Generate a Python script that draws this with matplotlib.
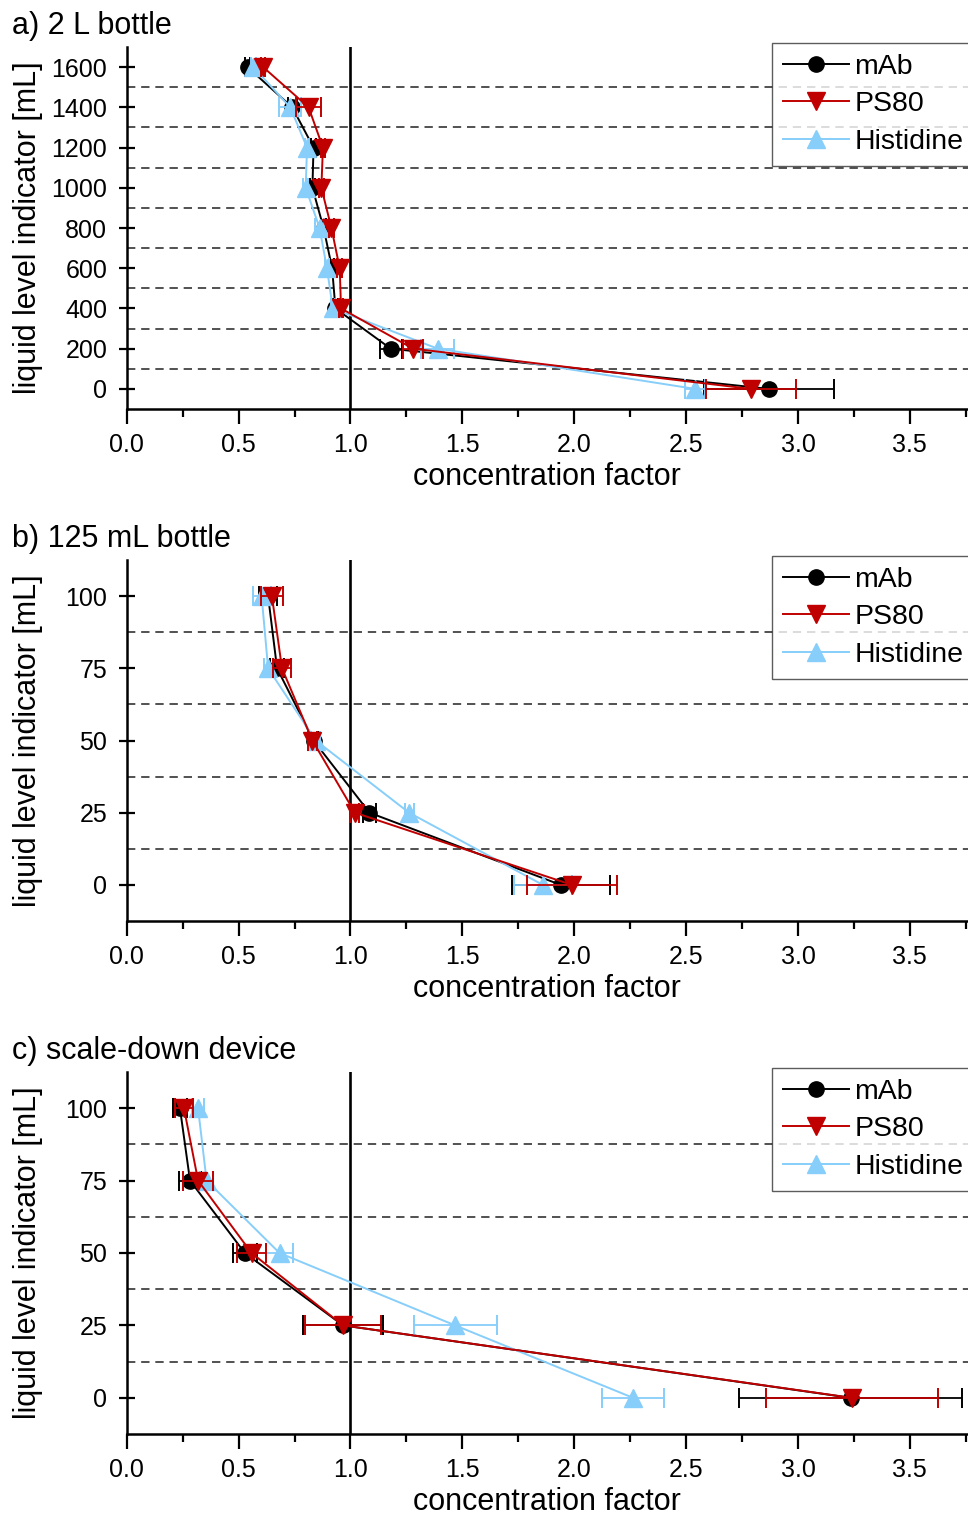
import matplotlib
matplotlib.use("Agg")
import matplotlib.pyplot as plt
from matplotlib.lines import Line2D
from matplotlib.ticker import MultipleLocator, FormatStrFormatter

plt.rcParams["font.family"] = ["Liberation Sans", "DejaVu Sans"]

# ---- data (liquid level from bottom to top) ----
levels_a = [0, 200, 400, 600, 800, 1000, 1200, 1400, 1600]
mab_a = [2.87, 1.18, 0.933, 0.918, 0.88, 0.83, 0.835, 0.74, 0.54]
mab_a_err = [0.29, 0.05, 0.01, 0.01, 0.01, 0.01, 0.01, 0.02, 0.01]
ps80_a = [2.79, 1.28, 0.958, 0.952, 0.915, 0.87, 0.877, 0.813, 0.61]
ps80_a_err = [0.20, 0.043, 0.01, 0.01, 0.01, 0.01, 0.01, 0.056, 0.01]
his_a = [2.54, 1.39, 0.921, 0.895, 0.862, 0.80, 0.806, 0.731, 0.566]
his_a_err = [0.045, 0.075, 0.01, 0.01, 0.02, 0.01, 0.01, 0.05, 0.01]

levels_b = [0, 25, 50, 75, 100]
mab_b = [1.94, 1.085, 0.835, 0.672, 0.632]
mab_b_err = [0.22, 0.03, 0.02, 0.03, 0.04]
ps80_b = [1.99, 1.02, 0.83, 0.694, 0.649]
ps80_b_err = [0.20, 0.02, 0.02, 0.04, 0.05]
his_b = [1.86, 1.262, 0.845, 0.632, 0.603]
his_b_err = [0.13, 0.02, 0.02, 0.02, 0.04]

levels_c = [0, 25, 50, 75, 100]
mab_c = [3.235, 0.967, 0.528, 0.283, 0.238]
mab_c_err = [0.50, 0.177, 0.055, 0.05, 0.03]
ps80_c = [3.24, 0.967, 0.558, 0.319, 0.256]
ps80_c_err = [0.385, 0.168, 0.065, 0.067, 0.04]
his_c = [2.263, 1.468, 0.683, 0.357, 0.319]
his_c_err = [0.14, 0.185, 0.06, 0.03, 0.025]

titles = ["a) 2 L bottle", "b) 125 mL bottle", "c) scale-down device"]
series_names = ["mAb", "PS80", "Histidine"]

BLACK = "#000000"
RED = "#c00000"
BLUE = "#87cefa"

W, H = 968, 1516
fig = plt.figure(figsize=(W / 100, H / 100), dpi=100)
fig.patch.set_facecolor("white")

panels = [
    dict(top=47, bottom=409, levels=levels_a, ylim=(-100, 1700), ystep=200,
         dashes=[100, 300, 500, 700, 900, 1100, 1300, 1500],
         data=[(mab_a, mab_a_err), (ps80_a, ps80_a_err), (his_a, his_a_err)]),
    dict(top=560, bottom=921, levels=levels_b, ylim=(-12.5, 112.5), ystep=25,
         dashes=[12.5, 37.5, 62.5, 87.5],
         data=[(mab_b, mab_b_err), (ps80_b, ps80_b_err), (his_b, his_b_err)]),
    dict(top=1072, bottom=1434, levels=levels_c, ylim=(-12.5, 112.5), ystep=25,
         dashes=[12.5, 37.5, 62.5, 87.5],
         data=[(mab_c, mab_c_err), (ps80_c, ps80_c_err), (his_c, his_c_err)]),
]

styles = [
    dict(color=BLACK, marker="o", ms=11, z=3),
    dict(color=RED, marker="v", ms=13, z=5),
    dict(color=BLUE, marker="^", ms=13, z=4),
]

left_px = 126.7
TICK_FS = 18
LABEL_FS = 22
LEGEND_FS = 20.5

for i, p in enumerate(panels):
    ax = fig.add_axes([left_px / W, 1 - p["bottom"] / H,
                       (W - left_px) / W, (p["bottom"] - p["top"]) / H])
    ax.set_xlim(0, 3.76)
    ax.set_ylim(*p["ylim"])

    for yd in p["dashes"]:
        ax.axhline(yd, color="#333333", lw=1.2, ls=(0, (5, 3.5)), zorder=1)
    ax.axvline(1.0, color="black", lw=1.9, zorder=2)

    for (vals, errs), st in zip(p["data"], styles):
        ax.errorbar(vals, p["levels"], xerr=errs, color=st["color"],
                    marker=st["marker"], ms=st["ms"], mec=st["color"],
                    mfc=st["color"], lw=1.4, elinewidth=1.3, capsize=7,
                    capthick=1.4, zorder=st["z"])

    for side in ("top", "right"):
        ax.spines[side].set_visible(False)
    for side in ("left", "bottom"):
        ax.spines[side].set_linewidth(1.8)

    ax.xaxis.set_major_locator(MultipleLocator(0.5))
    ax.xaxis.set_minor_locator(MultipleLocator(0.25))
    ax.xaxis.set_major_formatter(FormatStrFormatter("%.1f"))
    ax.yaxis.set_major_locator(MultipleLocator(p["ystep"]))
    ax.tick_params(axis="x", which="major", direction="out", length=11,
                   width=1.6, labelsize=TICK_FS, pad=6)
    ax.tick_params(axis="x", which="minor", direction="out", length=6,
                   width=1.6)
    ax.tick_params(axis="y", which="major", direction="inout", length=12,
                   width=1.6, labelsize=TICK_FS, pad=8)

    ax.set_xlabel("concentration factor", fontsize=LABEL_FS, labelpad=4)
    ax.set_ylabel("liquid level indicator [mL]", fontsize=LABEL_FS)
    ax.yaxis.set_label_coords((43 - left_px) / (W - left_px), 0.5)

    handles = [Line2D([], [], color=st["color"], marker=st["marker"],
                      ms=st["ms"], lw=1.4) for st in styles]
    fig.legend(handles, series_names, loc="upper left",
               bbox_to_anchor=(772 / W, 1 - (p["top"] - 4.5) / H),
               bbox_transform=fig.transFigure, borderaxespad=0,
               fontsize=LEGEND_FS, frameon=True, fancybox=False,
               edgecolor="#333333", handlelength=2.3, handletextpad=0.2,
               labelspacing=0.4, borderpad=0.4)

    fig.text(12 / W, 1 - (p["top"] - 21) / H, titles[i], fontsize=LABEL_FS,
             ha="left", va="center")

fig.savefig("out.png", dpi=100, facecolor="white")
